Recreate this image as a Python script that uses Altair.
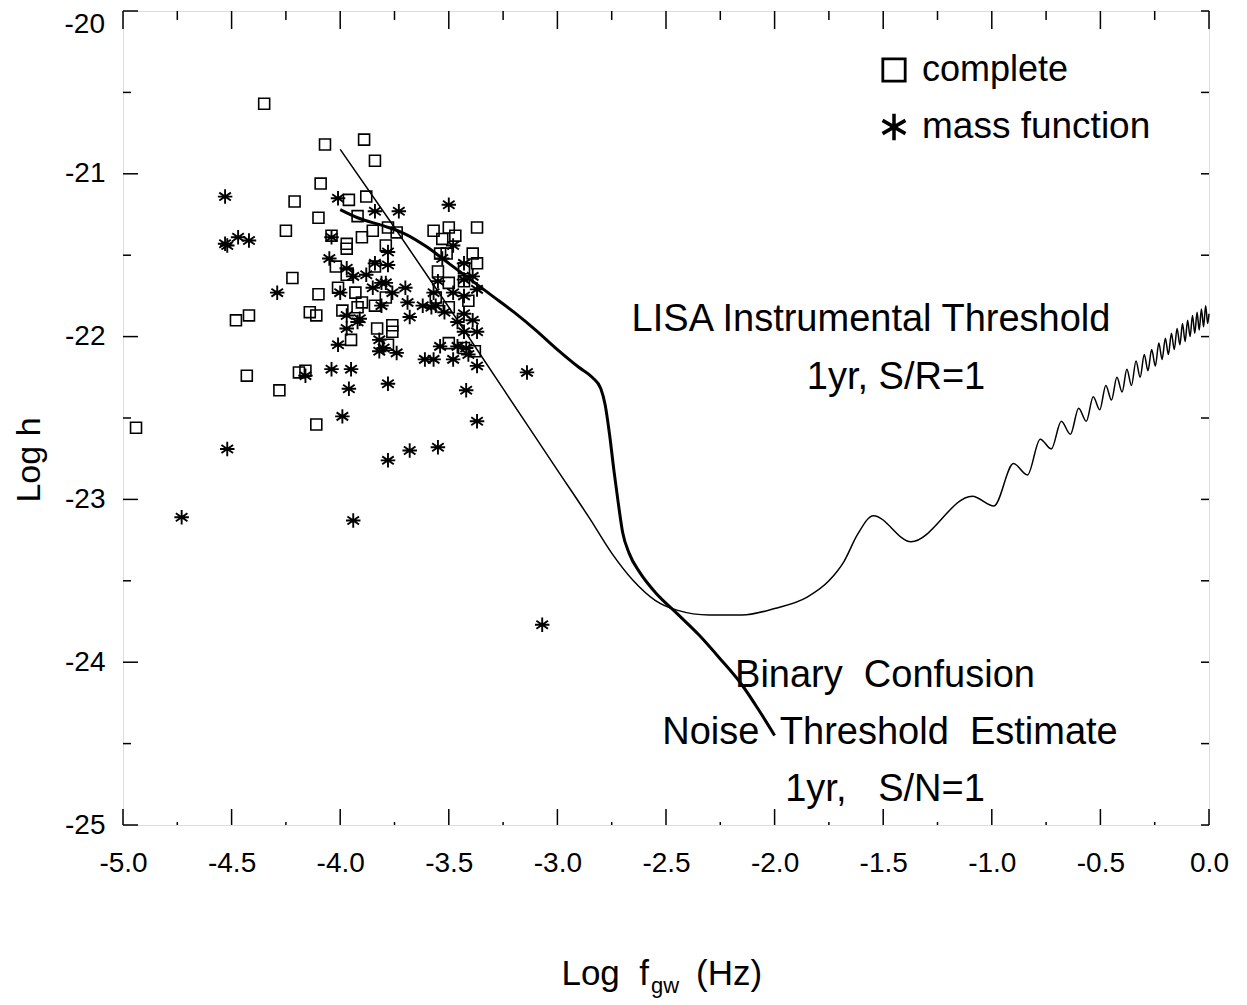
import altair as alt
import pandas as pd

# ---------------- data ----------------
complete_x = [-4.94, -4.35, -4.07, -3.89, -3.84, -4.09, -4.21, -3.96, -3.88, -4.10, -4.25, -3.92, -4.04,
              -3.97, -3.97, -3.90, -3.85, -3.78, -3.74, -3.79, -3.57, -3.50, -3.53, -3.47, -3.37, -3.54,
              -3.51, -3.39, -3.37, -3.43, -3.55, -3.84, -4.02, -3.97, -3.50, -3.43, -4.22, -4.10, -4.01,
              -3.93, -3.90, -3.84, -3.79, -4.14, -4.11, -3.99, -3.92, -3.56, -3.41, -3.50, -4.42, -4.48,
              -3.95, -3.83, -3.76, -3.76, -3.78, -3.50, -3.43, -3.38, -4.43, -4.19, -4.16, -4.28, -4.11]
complete_y = [-22.56, -20.57, -20.82, -20.79, -20.92, -21.06, -21.17, -21.16, -21.14, -21.27, -21.35, -21.26, -21.38,
              -21.43, -21.46, -21.39, -21.35, -21.33, -21.36, -21.44, -21.35, -21.33, -21.40, -21.38, -21.33, -21.49,
              -21.49, -21.49, -21.55, -21.58, -21.60, -21.57, -21.57, -21.62, -21.67, -21.66, -21.64, -21.74, -21.70,
              -21.73, -21.79, -21.81, -21.76, -21.85, -21.87, -21.84, -21.82, -21.76, -21.78, -21.82, -21.87, -21.90,
              -22.02, -21.95, -21.93, -21.97, -22.05, -22.04, -22.07, -22.09, -22.24, -22.22, -22.21, -22.33, -22.54]

massfn_x = [-4.53, -4.53, -4.52, -4.47, -4.42, -4.29, -3.97, -3.92, -3.97, -4.01, -4.16, -4.04, -3.95, -3.96,
            -3.99, -4.52, -4.73, -3.94, -4.01, -3.84, -3.73, -3.50, -4.04, -3.48, -3.78, -3.78, -4.05, -3.97,
            -3.94, -3.88, -3.84, -3.53, -3.43, -3.39, -3.43, -3.37, -3.48, -3.43, -3.57, -3.55, -4.00, -3.85,
            -3.81, -3.79, -3.76, -3.70, -3.69, -3.62, -3.56, -3.52, -3.43, -3.68, -3.91, -3.81, -3.58, -3.46,
            -3.39, -3.43, -3.37, -3.82, -3.82, -3.80, -3.74, -3.54, -3.46, -3.42, -3.41, -3.61, -3.57, -3.48,
            -3.37, -3.14, -3.78, -3.42, -3.37, -3.68, -3.55, -3.78, -3.07]
massfn_y = [-21.14, -21.43, -21.44, -21.39, -21.41, -21.73, -21.87, -21.91, -21.95, -22.05, -22.24, -22.20, -22.20, -22.32,
            -22.49, -22.69, -23.11, -23.13, -21.15, -21.23, -21.23, -21.19, -21.39, -21.44, -21.48, -21.56, -21.52, -21.58,
            -21.63, -21.62, -21.55, -21.52, -21.55, -21.63, -21.65, -21.71, -21.73, -21.75, -21.73, -21.66, -21.73, -21.70,
            -21.67, -21.67, -21.73, -21.70, -21.79, -21.81, -21.81, -21.85, -21.86, -21.88, -21.89, -21.81, -21.82, -21.91,
            -21.90, -21.97, -21.97, -22.02, -22.09, -22.07, -22.10, -22.06, -22.06, -22.07, -22.11, -22.14, -22.14, -22.14,
            -22.18, -22.22, -22.29, -22.33, -22.52, -22.70, -22.68, -22.76, -23.77]

lisa_x = [-4.00, -3.75, -3.50, -3.25, -3.00, -2.85, -2.75, -2.65, -2.55, -2.45, -2.30, -2.15, -2.00, -1.85,
          -1.75, -1.68, -1.62,
          -1.545, -1.372, -1.090, -0.990, -0.900, -0.836, -0.777, -0.726, -0.680, -0.638, -0.600, -0.565,
          -0.533, -0.503, -0.475, -0.449, -0.424, -0.400, -0.378, -0.357, -0.336, -0.317, -0.298, -0.281,
          -0.264, -0.247, -0.231, -0.216, -0.201, -0.187, -0.173, -0.160, -0.147, -0.134, -0.122, -0.110,
          -0.0985, -0.087, -0.076, -0.0655, -0.055, -0.045, -0.035, -0.025, -0.0155, -0.006, 0.0]
lisa_y = [-20.85, -21.33, -21.82, -22.32, -22.82, -23.12, -23.33, -23.50, -23.62, -23.68, -23.71, -23.71, -23.67, -23.60,
          -23.50, -23.38, -23.22,
          -23.10, -23.26, -22.98, -23.04, -22.78, -22.85, -22.63, -22.69, -22.52, -22.60, -22.44, -22.52,
          -22.37, -22.45, -22.30, -22.39, -22.25, -22.34, -22.20, -22.30, -22.15, -22.25, -22.11, -22.21,
          -22.08, -22.18, -22.04, -22.14, -22.01, -22.11, -21.98, -22.08, -21.95, -22.05, -21.92, -22.03,
          -21.90, -22.00, -21.87, -21.98, -21.85, -21.96, -21.83, -21.94, -21.81, -21.92, -21.86]

conf_x = [-4.00, -3.92, -3.80, -3.70, -3.60, -3.50, -3.40, -3.30, -3.20, -3.10, -3.00, -2.90, -2.84, -2.80,
          -2.78, -2.76, -2.74, -2.72, -2.70, -2.67, -2.62, -2.55, -2.45, -2.35, -2.25, -2.15, -2.07, -2.00]
conf_y = [-21.22, -21.27, -21.32, -21.37, -21.45, -21.55, -21.65, -21.75, -21.85, -21.96, -22.08, -22.19, -22.25, -22.32,
          -22.42, -22.60, -22.82, -23.02, -23.20, -23.33, -23.45, -23.57, -23.70, -23.83, -23.98, -24.14, -24.30, -24.45]

x_major = [-5.0, -4.5, -4.0, -3.5, -3.0, -2.5, -2.0, -1.5, -1.0, -0.5, 0.0]
x_minor = [-4.75, -4.25, -3.75, -3.25, -2.75, -2.25, -1.75, -1.25, -0.75, -0.25]
y_major = [-20, -21, -22, -23, -24, -25]
y_minor = [-20.5, -21.5, -22.5, -23.5, -24.5]
y_labeled = [-21, -22, -23, -24, -25]

# ---------------- layout ----------------
W, H = 1086, 814
FONT = "Liberation Sans"
MINUS = "\u2212"
NB = "\u00a0"

xs = alt.Scale(domain=[-5, 0], nice=False, zero=False)
ys = alt.Scale(domain=[-25, -20], nice=False, zero=False)

X = alt.X("x:Q", scale=xs, title="",
          axis=alt.Axis(values=x_major, format=".1f", labelExpr=f"replace(datum.label, '{MINUS}', '-')",
                        tickSize=0, domain=False, grid=False, labelFontSize=28, labelFont=FONT,
                        labelColor="black", labelPadding=24, labelFlush=False))
Y = alt.Y("y:Q", scale=ys, title="",
          axis=alt.Axis(values=y_labeled, format="d", labelExpr=f"replace(datum.label, '{MINUS}', '-')",
                        tickSize=0, domain=False, grid=False, labelFontSize=28, labelFont=FONT,
                        labelColor="black", labelPadding=18, labelFlush=False))
Xn = alt.X("x:Q", scale=xs)
Yn = alt.Y("y:Q", scale=ys)

df_c = pd.DataFrame({"x": complete_x, "y": complete_y})
df_m = pd.DataFrame({"x": massfn_x, "y": massfn_y})
df_l = pd.DataFrame({"x": lisa_x, "y": lisa_y})
df_b = pd.DataFrame({"x": conf_x, "y": conf_y})

STAR8 = "M0,-1L0,1M-0.8,-0.55L0.8,0.55M-0.8,0.55L0.8,-0.55M-1,0L1,0"
STAR6 = "M0,-1L0,1M-0.866,-0.5L0.866,0.5M-0.866,0.5L0.866,-0.5"

squares = alt.Chart(df_c).mark_point(shape="square", filled=False, size=120, stroke="black",
                                     strokeWidth=1.6, opacity=1).encode(x=X, y=Y)
stars = alt.Chart(df_m).mark_point(shape=STAR8, filled=False, size=210, stroke="black",
                                   strokeWidth=1.9, opacity=1).encode(x=Xn, y=Yn)
lisa = alt.Chart(df_l).mark_line(color="black", strokeWidth=1.5, interpolate="monotone").encode(x=Xn, y=Yn)
conf = alt.Chart(df_b).mark_line(color="black", strokeWidth=3, interpolate="monotone").encode(x=Xn, y=Yn)


def xticks(vals, y0, y1):
    return alt.Chart(pd.DataFrame({"x": vals})).mark_rule(color="black", strokeWidth=1.5).encode(
        x=Xn, y=alt.value(y0), y2=alt.value(y1))


def yticks(vals, x0, x1):
    return alt.Chart(pd.DataFrame({"y": vals})).mark_rule(color="black", strokeWidth=1.5).encode(
        y=Yn, x=alt.value(x0), x2=alt.value(x1))


ticks = [
    xticks(x_major, H, H - 16), xticks(x_minor, H, H - 3),
    xticks(x_major, 0, 18), xticks(x_minor, 0, 9),
    yticks(y_major, 0, 15), yticks(y_minor, 0, 8),
    yticks(y_major + y_minor, W, W - 8),
]


def label(txt, x, y, size=38, align="center", baseline="middle", angle=0):
    return alt.Chart(pd.DataFrame({"t": [txt]})).mark_text(
        font=FONT, fontSize=size, color="black", align=align, baseline=baseline, angle=angle).encode(
        x=alt.value(x), y=alt.value(y), text="t:N")


texts = [
    label("LISA Instrumental Threshold", 748, 309),
    label("1yr, S/R=1", 773, 367),
    label(f"Binary{NB} Confusion", 762, 665),
    label(f"Noise{NB} Threshold{NB} Estimate", 767, 722),
    label(f"1yr,{NB}{NB}{NB}S/N=1", 762, 779),
    label("complete", 799, 59, size=36, align="left"),
    label("mass function", 799, 116, size=37, align="left"),
    label("Log h", -93, 449, size=34, angle=270),
    label(f"Log{NB} f", 526, 974, size=35, align="right", baseline="alphabetic"),
    label("gw", 528, 982, size=22, align="left", baseline="alphabetic"),
    label("(Hz)", 573, 974, size=35, align="left", baseline="alphabetic"),
    label("-20", -18, 14, size=28, align="right"),
]

leg_sq = alt.Chart(pd.DataFrame({"t": ["complete"]})).mark_point(
    shape="square", filled=False, size=500, stroke="black", strokeWidth=2.8, opacity=1).encode(
    x=alt.value(771), y=alt.value(59))
leg_st = alt.Chart(pd.DataFrame({"t": ["mass function"]})).mark_point(
    shape=STAR6, filled=False, size=700, stroke="black", strokeWidth=3.5, opacity=1).encode(
    x=alt.value(771), y=alt.value(116))

chart = alt.layer(squares, stars, lisa, conf, *ticks, *texts, leg_sq, leg_st).properties(
    width=W, height=H,
    autosize=alt.AutoSizeParams(type="none"),
    padding={"left": 115, "top": 3, "right": 30, "bottom": 175},
).configure_view(stroke="black", strokeWidth=2).configure(background="white")

chart.save("out.html", embed_options={"renderer": "svg", "actions": False})
